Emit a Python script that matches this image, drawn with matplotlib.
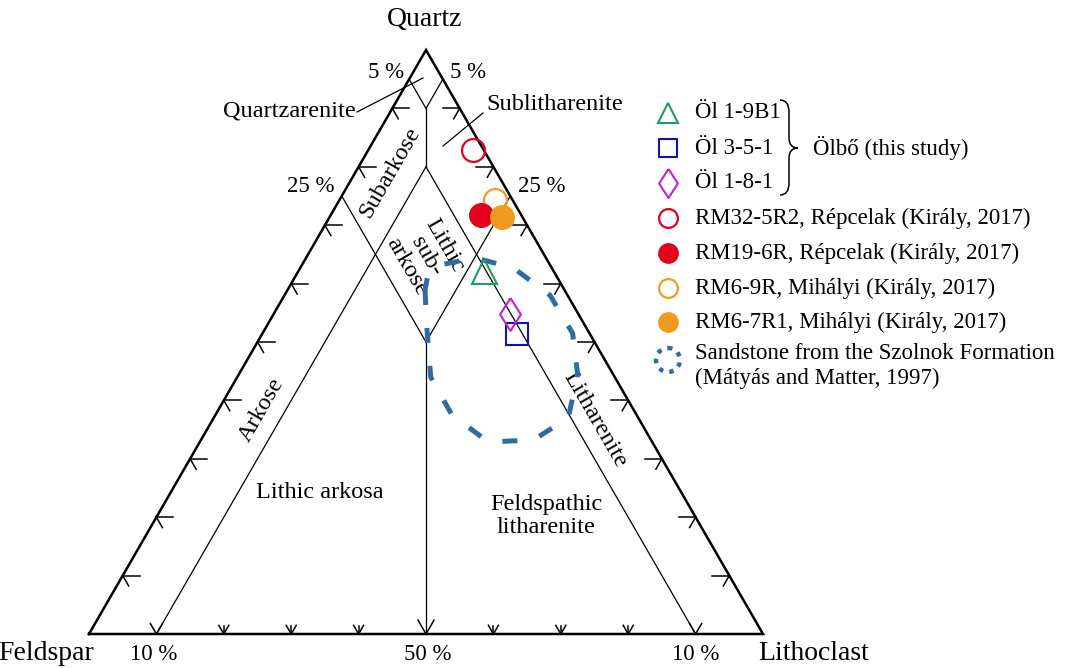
import numpy as np
import matplotlib.pyplot as plt
from matplotlib.path import Path
from matplotlib.patches import PathPatch, Circle

plt.rcParams['font.family'] = ['Liberation Serif', 'DejaVu Serif']

# triangle corners on the canvas (pixel units, y pointing down)
F_XY = np.array([89.0, 634.0])
L_XY = np.array([763.0, 634.0])
Q_XY = np.array([426.0, 50.0])

# QFL compositions in percent
sample_names = ['Öl 1-9B1', 'Öl 3-5-1', 'Öl 1-8-1',
                'RM32-5R2, Répcelak (Király, 2017)',
                'RM19-6R, Répcelak (Király, 2017)',
                'RM6-9R, Mihályi (Király, 2017)',
                'RM6-7R1, Mihályi (Király, 2017)']
sample_q = [62.2, 51.3, 54.8, 82.9, 71.8, 74.3, 71.4]
sample_f = [10.3, 10.8, 10.1, 1.6, 6.0, 2.6, 3.0]
sample_l = [27.5, 37.9, 35.1, 15.5, 22.2, 23.1, 25.6]

# outline of the Szolnok Formation sandstone field (Q, F, L in percent)
szolnok_q = [58.9, 52.1, 44.0, 37.5, 32.9, 33.2, 37.0, 44.4, 51.5, 58.0, 62.7, 64.4, 63.2, 61.0]
szolnok_f = [20.7, 23.8, 27.3, 27.4, 24.3, 17.5, 10.4, 5.3, 2.5, 2.6, 5.7, 10.5, 16.3, 19.3]
szolnok_l = [20.4, 24.1, 28.7, 35.1, 42.8, 49.3, 52.6, 50.3, 46.0, 39.4, 31.6, 25.1, 20.5, 19.7]

# classification field boundaries: (start Q, F, L), (end Q, F, L)
field_lines = [
    ((95, 5, 0), (90, 5, 5)),
    ((95, 0, 5), (90, 5, 5)),
    ((90, 5, 5), (80, 10, 10)),
    ((80, 10, 10), (0, 90, 10)),
    ((80, 10, 10), (0, 10, 90)),
    ((75, 25, 0), (50, 25, 25)),
    ((75, 0, 25), (50, 25, 25)),
    ((50, 25, 25), (0, 50, 50)),
]
tick_steps = [10, 20, 30, 40, 50, 60, 70, 80, 90]


def tern(q, f, l):
    q = np.asarray(q, float)
    f = np.asarray(f, float)
    l = np.asarray(l, float)
    s = q + f + l
    x = (q * Q_XY[0] + f * F_XY[0] + l * L_XY[0]) / s
    y = (q * Q_XY[1] + f * F_XY[1] + l * L_XY[1]) / s
    return x, y


def unit(v):
    v = np.asarray(v, float)
    return v / np.hypot(*v)


fig = plt.figure(figsize=(10.65, 6.68), dpi=100)
ax = fig.add_axes([0, 0, 1, 1])
ax.set_xlim(0, 1065)
ax.set_ylim(668, 0)
ax.axis('off')

# frame
tri = np.array([F_XY, L_XY, Q_XY, F_XY])
ax.plot(tri[:, 0], tri[:, 1], color='black', lw=1.8, solid_joinstyle='miter', zorder=3)

for a, b in field_lines:
    xa, ya = tern(*a)
    xb, yb = tern(*b)
    ax.plot([xa, xb], [ya, yb], color='black', lw=0.9, zorder=2)

# arrow ticks along the three sides
dir_fq = unit(Q_XY - F_XY)
dir_lq = unit(Q_XY - L_XY)
dir_ql = unit(L_XY - Q_XY)
dir_qf = unit(F_XY - Q_XY)


def arrow_tick(p, stem, heads, stem_len, head_len):
    p = np.asarray(p, float)
    if stem_len > 0:
        e = p + stem * stem_len
        ax.plot([p[0], e[0]], [p[1], e[1]], color='black', lw=1.1, zorder=3)
    for h in heads:
        e = p + h * head_len
        ax.plot([p[0], e[0]], [p[1], e[1]], color='black', lw=1.1, zorder=3)


for v in tick_steps:
    # Q-F side
    arrow_tick(tern(v, 100 - v, 0), np.array([1.0, 0.0]), [dir_fq, dir_ql], 17, 12)
    # Q-L side
    arrow_tick(tern(v, 0, 100 - v), np.array([-1.0, 0.0]), [dir_lq, dir_qf], 17, 12)
    # F-L side
    big = 16 if v == 50 else (12 if v in (10, 90) else 10)
    stem = 0 if v in (10, 50, 90) else 8
    arrow_tick(tern(0, 100 - v, v), np.array([0.0, -1.0]), [dir_fq, dir_lq], stem, big)

# sandstone field
sx, sy = tern(szolnok_q, szolnok_f, szolnok_l)
sx = np.append(sx, sx[0])
sy = np.append(sy, sy[0])
sand_c = '#2f6ca3'
ax.plot(sx, sy, color=sand_c, lw=3.6, ls=(0, (3, 4.6)), solid_capstyle='butt',
        dash_capstyle='butt', zorder=4)

# sample markers
thin_diamond = [(0, 1), (0.64, 0), (0, -1), (-0.64, 0), (0, 1)]
styles = [
    dict(marker='^', ms=18, mfc='none', mec='#1f9d5a', mew=1.5),
    dict(marker='s', ms=16, mfc='none', mec='#1212b4', mew=1.5),
    dict(marker=thin_diamond, ms=23.5, mfc='none', mec='#c61fd0', mew=1.5),
    dict(marker='o', ms=16.5, mfc='none', mec='#e2001c', mew=1.6),
    dict(marker='o', ms=17, mfc='#e2001c', mec='#e2001c', mew=1.0),
    dict(marker='o', ms=16.5, mfc='none', mec='#f09a20', mew=1.6),
    dict(marker='o', ms=17, mfc='#f09a20', mec='#f09a20', mew=1.0),
]
draw_order = [0, 1, 2, 3, 5, 4, 6]
px, py = tern(sample_q, sample_f, sample_l)
for k, i in enumerate(draw_order):
    ax.plot(px[i], py[i], ls='none', zorder=5 + k, **styles[i])

# corner and scale labels
ax.text(425, 20, 'Quartz', fontsize=20, ha='center', va='center')
ax.text(46, 653, 'Feldspar', fontsize=20, ha='center', va='center')
ax.text(814, 653, 'Lithoclast', fontsize=20, ha='center', va='center')
pct = dict(fontsize=16.5, ha='center', va='center')
ax.text(386, 73, '5 %', **pct)
ax.text(468, 73, '5 %', **pct)
ax.text(311, 186, '25 %', **pct)
ax.text(542, 186, '25 %', **pct)
ax.text(154, 654, '10 %', **pct)
ax.text(428, 654, '50 %', **pct)
ax.text(696, 654, '10 %', **pct)

# field names
fs = 17.5
ax.text(356, 111, 'Quartzarenite', fontsize=fs, ha='right', va='center')
ax.plot([357, 423], [112, 78], color='black', lw=0.9)
ax.text(486, 105, 'Sublitharenite', fontsize=fs, ha='left', va='center')
ax.plot([483, 443], [113, 146], color='black', lw=0.9)
ax.text(390, 172, 'Subarkose', fontsize=fs, rotation=60, ha='center', va='center',
        rotation_mode='anchor')
ax.text(426, 256, 'Lithic\nsub-\narkose', fontsize=fs, rotation=-60, ha='center',
        va='center', multialignment='center', linespacing=1.05, rotation_mode='anchor')
ax.text(262, 410, 'Arkose', fontsize=fs, rotation=60, ha='center', va='center',
        rotation_mode='anchor')
ax.text(595, 420, 'Litharenite', fontsize=fs, rotation=-60, ha='center', va='center',
        rotation_mode='anchor')
ax.text(320, 492, 'Lithic arkosa', fontsize=fs, ha='center', va='center')
ax.text(546, 516, 'Feldspathic\nlitharenite', fontsize=fs, ha='center', va='center',
        linespacing=1.15)

# legend
leg_x, txt_x = 668, 695
leg_y = [113, 148, 183, 218, 253, 288, 322]
for i in range(len(sample_names)):
    st = dict(styles[i])
    if st['marker'] == thin_diamond:
        st['ms'] = 21
    else:
        st['ms'] = st['ms'] * 0.82
    ax.plot(leg_x, leg_y[i], ls='none', **st)
    ax.text(txt_x, leg_y[i], sample_names[i], fontsize=16.5, ha='left', va='center')

ax.add_patch(Circle((leg_x, 360), 12, fill=False, ec=sand_c, lw=3.2,
                    ls=(0, (1.0, 1.4))))
ax.text(txt_x, 366, 'Sandstone from the Szolnok Formation\n(Mátyás and Matter, 1997)',
        fontsize=16.5, ha='left', va='center', linespacing=1.2)

# brace grouping the samples of this study
brace = Path([(780, 100), (789, 100), (789, 112), (789, 138), (789, 148), (798, 148),
              (789, 148), (789, 158), (789, 183), (789, 195), (780, 195)],
             [Path.MOVETO, Path.CURVE3, Path.CURVE3, Path.LINETO, Path.CURVE3, Path.CURVE3,
              Path.CURVE3, Path.CURVE3, Path.LINETO, Path.CURVE3, Path.CURVE3])
ax.add_patch(PathPatch(brace, fill=False, lw=1.1, ec='black'))
ax.text(813, 148, 'Ölbő (this study)', fontsize=16.5, ha='left', va='center')

fig.savefig('out.png', dpi=100)
